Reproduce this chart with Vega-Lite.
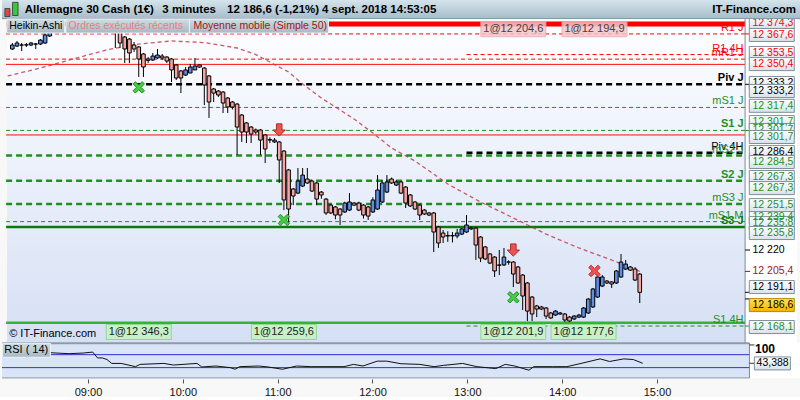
{
"$schema":"https://vega.github.io/schema/vega-lite/v6.json",
"padding":0,
"background":"#f8f8f8",
"spacing":0,
"bounds":"flush",
"config":{"view":{"stroke":null},"font":"Liberation Sans"},
"datasets":{
"candles":[
{"t":"2018-09-04T08:09","o":12357.3,"h":12361.4,"l":12356.6,"c":12360.0},
{"t":"2018-09-04T08:12","o":12359.3,"h":12362.8,"l":12358.7,"c":12361.4},
{"t":"2018-09-04T08:15","o":12360.0,"h":12361.4,"l":12355.9,"c":12360.0},
{"t":"2018-09-04T08:18","o":12360.2,"h":12361.4,"l":12358.7,"c":12360.0},
{"t":"2018-09-04T08:21","o":12360.0,"h":12362.1,"l":12359.3,"c":12361.4},
{"t":"2018-09-04T08:24","o":12360.7,"h":12361.4,"l":12357.3,"c":12360.7},
{"t":"2018-09-04T08:27","o":12360.7,"h":12364.1,"l":12360.0,"c":12363.4},
{"t":"2018-09-04T08:30","o":12361.4,"h":12368.2,"l":12360.7,"c":12366.9},
{"t":"2018-09-04T08:33","o":12366.2,"h":12374.0,"l":12365.5,"c":12372.0},
{"t":"2018-09-04T09:15","o":12376.0,"h":12378.0,"l":12358.0,"c":12369.0},
{"t":"2018-09-04T09:18","o":12372.0,"h":12374.0,"l":12358.0,"c":12361.4},
{"t":"2018-09-04T09:21","o":12365.5,"h":12366.2,"l":12347.7,"c":12357.3},
{"t":"2018-09-04T09:24","o":12364.1,"h":12364.8,"l":12347.7,"c":12354.6},
{"t":"2018-09-04T09:27","o":12360.0,"h":12362.1,"l":12355.3,"c":12357.3},
{"t":"2018-09-04T09:30","o":12358.7,"h":12359.3,"l":12338.2,"c":12350.5},
{"t":"2018-09-04T09:33","o":12353.9,"h":12354.6,"l":12338.2,"c":12345.0},
{"t":"2018-09-04T09:36","o":12350.5,"h":12351.8,"l":12347.7,"c":12349.5},
{"t":"2018-09-04T09:39","o":12349.8,"h":12354.6,"l":12349.1,"c":12352.5},
{"t":"2018-09-04T09:42","o":12351.2,"h":12357.3,"l":12350.5,"c":12353.2},
{"t":"2018-09-04T09:45","o":12352.5,"h":12353.9,"l":12349.8,"c":12351.2},
{"t":"2018-09-04T09:48","o":12351.8,"h":12352.5,"l":12347.7,"c":12349.1},
{"t":"2018-09-04T09:51","o":12350.5,"h":12351.2,"l":12334.8,"c":12343.0},
{"t":"2018-09-04T09:54","o":12346.4,"h":12347.0,"l":12336.1,"c":12337.5},
{"t":"2018-09-04T09:57","o":12342.3,"h":12343.0,"l":12327.2,"c":12337.5},
{"t":"2018-09-04T10:00","o":12339.5,"h":12345.0,"l":12339.0,"c":12343.0},
{"t":"2018-09-04T10:03","o":12340.9,"h":12347.0,"l":12340.9,"c":12345.0},
{"t":"2018-09-04T10:06","o":12343.0,"h":12351.2,"l":12343.0,"c":12345.7},
{"t":"2018-09-04T10:09","o":12346.4,"h":12347.0,"l":12344.3,"c":12345.0},
{"t":"2018-09-04T10:12","o":12344.3,"h":12345.0,"l":12319.0,"c":12332.7},
{"t":"2018-09-04T10:15","o":12338.9,"h":12339.5,"l":12310.2,"c":12321.1},
{"t":"2018-09-04T10:18","o":12330.0,"h":12330.7,"l":12321.1,"c":12327.2},
{"t":"2018-09-04T10:21","o":12328.6,"h":12329.3,"l":12324.5,"c":12325.9},
{"t":"2018-09-04T10:24","o":12327.9,"h":12328.6,"l":12313.6,"c":12320.4},
{"t":"2018-09-04T10:27","o":12323.8,"h":12324.5,"l":12313.6,"c":12317.7},
{"t":"2018-09-04T10:30","o":12321.1,"h":12321.8,"l":12316.0,"c":12317.7},
{"t":"2018-09-04T10:33","o":12319.7,"h":12320.4,"l":12284.9,"c":12304.0},
{"t":"2018-09-04T10:36","o":12312.2,"h":12312.9,"l":12293.8,"c":12300.6},
{"t":"2018-09-04T10:39","o":12306.8,"h":12307.5,"l":12293.1,"c":12300.6},
{"t":"2018-09-04T10:42","o":12304.0,"h":12304.7,"l":12293.1,"c":12299.2},
{"t":"2018-09-04T10:45","o":12302.0,"h":12303.0,"l":12299.0,"c":12300.6},
{"t":"2018-09-04T10:48","o":12302.0,"h":12302.7,"l":12284.9,"c":12295.1},
{"t":"2018-09-04T10:51","o":12298.6,"h":12299.2,"l":12279.4,"c":12289.0},
{"t":"2018-09-04T10:54","o":12295.5,"h":12297.0,"l":12293.0,"c":12295.1},
{"t":"2018-09-04T10:57","o":12293.8,"h":12296.5,"l":12293.1,"c":12295.1},
{"t":"2018-09-04T11:00","o":12293.8,"h":12294.5,"l":12265.8,"c":12281.5},
{"t":"2018-09-04T11:03","o":12287.6,"h":12288.3,"l":12247.3,"c":12254.2},
{"t":"2018-09-04T11:06","o":12274.7,"h":12275.4,"l":12238.5,"c":12248.0},
{"t":"2018-09-04T11:09","o":12261.7,"h":12262.4,"l":12250.7,"c":12256.9},
{"t":"2018-09-04T11:12","o":12258.9,"h":12276.0,"l":12258.2,"c":12267.1},
{"t":"2018-09-04T11:15","o":12263.7,"h":12276.0,"l":12263.0,"c":12271.2},
{"t":"2018-09-04T11:18","o":12268.5,"h":12276.0,"l":12265.1,"c":12265.8},
{"t":"2018-09-04T11:21","o":12267.1,"h":12268.0,"l":12259.6,"c":12260.3},
{"t":"2018-09-04T11:24","o":12265.8,"h":12266.5,"l":12250.7,"c":12254.8},
{"t":"2018-09-04T11:27","o":12259.6,"h":12260.3,"l":12255.0,"c":12257.6},
{"t":"2018-09-04T11:30","o":12254.8,"h":12255.5,"l":12244.0,"c":12245.3},
{"t":"2018-09-04T11:33","o":12250.7,"h":12251.4,"l":12244.6,"c":12245.3},
{"t":"2018-09-04T11:36","o":12249.4,"h":12250.1,"l":12241.0,"c":12243.9},
{"t":"2018-09-04T11:39","o":12248.0,"h":12248.7,"l":12237.1,"c":12243.9},
{"t":"2018-09-04T11:42","o":12246.0,"h":12253.0,"l":12245.3,"c":12252.1},
{"t":"2018-09-04T11:45","o":12247.3,"h":12258.9,"l":12246.6,"c":12252.8},
{"t":"2018-09-04T11:48","o":12252.1,"h":12252.8,"l":12250.0,"c":12250.7},
{"t":"2018-09-04T11:51","o":12252.1,"h":12253.0,"l":12246.6,"c":12247.3},
{"t":"2018-09-04T11:54","o":12250.7,"h":12251.4,"l":12241.5,"c":12243.9},
{"t":"2018-09-04T11:57","o":12249.4,"h":12250.1,"l":12240.5,"c":12243.2},
{"t":"2018-09-04T12:00","o":12246.0,"h":12256.0,"l":12245.3,"c":12254.2},
{"t":"2018-09-04T12:03","o":12248.0,"h":12271.2,"l":12247.3,"c":12261.0},
{"t":"2018-09-04T12:06","o":12252.8,"h":12268.0,"l":12252.1,"c":12265.8},
{"t":"2018-09-04T12:09","o":12259.6,"h":12271.2,"l":12258.9,"c":12266.5},
{"t":"2018-09-04T12:12","o":12268.5,"h":12269.5,"l":12265.1,"c":12265.8},
{"t":"2018-09-04T12:15","o":12264.4,"h":12267.8,"l":12263.7,"c":12266.5},
{"t":"2018-09-04T12:18","o":12266.5,"h":12267.2,"l":12258.2,"c":12258.9},
{"t":"2018-09-04T12:21","o":12263.0,"h":12263.7,"l":12248.7,"c":12252.1},
{"t":"2018-09-04T12:24","o":12257.6,"h":12258.3,"l":12249.4,"c":12250.1},
{"t":"2018-09-04T12:27","o":12252.8,"h":12253.5,"l":12247.3,"c":12248.0},
{"t":"2018-09-04T12:30","o":12250.7,"h":12251.4,"l":12240.5,"c":12243.9},
{"t":"2018-09-04T12:33","o":12247.3,"h":12248.0,"l":12243.9,"c":12244.6},
{"t":"2018-09-04T12:36","o":12245.3,"h":12246.0,"l":12243.2,"c":12243.9},
{"t":"2018-09-04T12:39","o":12245.3,"h":12246.0,"l":12218.6,"c":12232.3},
{"t":"2018-09-04T12:42","o":12235.7,"h":12236.4,"l":12221.4,"c":12224.8},
{"t":"2018-09-04T12:45","o":12231.6,"h":12233.7,"l":12224.8,"c":12228.9},
{"t":"2018-09-04T12:48","o":12229.9,"h":12232.8,"l":12225.6,"c":12229.6},
{"t":"2018-09-04T12:51","o":12229.9,"h":12232.3,"l":12225.2,"c":12229.6},
{"t":"2018-09-04T12:54","o":12229.6,"h":12234.4,"l":12228.0,"c":12231.6},
{"t":"2018-09-04T12:57","o":12230.9,"h":12235.0,"l":12230.2,"c":12234.4},
{"t":"2018-09-04T13:00","o":12232.3,"h":12243.9,"l":12231.6,"c":12237.1},
{"t":"2018-09-04T13:03","o":12235.0,"h":12236.0,"l":12233.7,"c":12234.4},
{"t":"2018-09-04T13:06","o":12235.0,"h":12235.7,"l":12213.2,"c":12223.4},
{"t":"2018-09-04T13:09","o":12228.9,"h":12229.6,"l":12211.8,"c":12214.5},
{"t":"2018-09-04T13:12","o":12222.1,"h":12222.8,"l":12213.2,"c":12213.9},
{"t":"2018-09-04T13:15","o":12217.3,"h":12218.0,"l":12210.4,"c":12211.1},
{"t":"2018-09-04T13:18","o":12215.2,"h":12215.9,"l":12201.6,"c":12205.7},
{"t":"2018-09-04T13:21","o":12209.8,"h":12220.0,"l":12202.9,"c":12209.6},
{"t":"2018-09-04T13:24","o":12209.8,"h":12221.4,"l":12209.1,"c":12215.2},
{"t":"2018-09-04T13:27","o":12211.8,"h":12213.0,"l":12210.0,"c":12211.8},
{"t":"2018-09-04T13:30","o":12211.8,"h":12212.5,"l":12194.7,"c":12203.6},
{"t":"2018-09-04T13:33","o":12208.4,"h":12209.1,"l":12196.8,"c":12197.5},
{"t":"2018-09-04T13:36","o":12202.9,"h":12203.6,"l":12179.0,"c":12188.6},
{"t":"2018-09-04T13:39","o":12197.5,"h":12198.2,"l":12171.5,"c":12178.3},
{"t":"2018-09-04T13:42","o":12187.9,"h":12188.6,"l":12171.5,"c":12176.3},
{"t":"2018-09-04T13:45","o":12181.8,"h":12182.5,"l":12174.2,"c":12179.7},
{"t":"2018-09-04T13:48","o":12181.1,"h":12181.8,"l":12179.0,"c":12179.7},
{"t":"2018-09-04T13:51","o":12180.4,"h":12181.1,"l":12172.9,"c":12174.9},
{"t":"2018-09-04T13:54","o":12177.0,"h":12177.7,"l":12172.9,"c":12173.6},
{"t":"2018-09-04T13:57","o":12175.6,"h":12179.0,"l":12174.9,"c":12178.3},
{"t":"2018-09-04T14:00","o":12177.0,"h":12177.7,"l":12175.6,"c":12176.3},
{"t":"2018-09-04T14:03","o":12176.3,"h":12177.0,"l":12170.8,"c":12172.2},
{"t":"2018-09-04T14:06","o":12174.2,"h":12174.9,"l":12170.8,"c":12171.5},
{"t":"2018-09-04T14:09","o":12172.9,"h":12175.6,"l":12172.2,"c":12174.9},
{"t":"2018-09-04T14:12","o":12174.2,"h":12176.3,"l":12173.6,"c":12175.6},
{"t":"2018-09-04T14:15","o":12174.2,"h":12181.1,"l":12173.6,"c":12180.4},
{"t":"2018-09-04T14:18","o":12177.0,"h":12187.2,"l":12176.3,"c":12186.5},
{"t":"2018-09-04T14:21","o":12181.1,"h":12194.1,"l":12180.4,"c":12193.4},
{"t":"2018-09-04T14:24","o":12187.9,"h":12202.3,"l":12187.2,"c":12201.6},
{"t":"2018-09-04T14:27","o":12195.4,"h":12202.9,"l":12194.7,"c":12201.6},
{"t":"2018-09-04T14:30","o":12198.8,"h":12199.5,"l":12196.8,"c":12197.5},
{"t":"2018-09-04T14:33","o":12198.2,"h":12198.8,"l":12194.1,"c":12196.8},
{"t":"2018-09-04T14:36","o":12197.5,"h":12206.4,"l":12196.8,"c":12205.7},
{"t":"2018-09-04T14:39","o":12201.6,"h":12217.3,"l":12200.9,"c":12211.8},
{"t":"2018-09-04T14:42","o":12207.0,"h":12213.2,"l":12206.3,"c":12210.4},
{"t":"2018-09-04T14:45","o":12208.4,"h":12209.1,"l":12205.7,"c":12206.3},
{"t":"2018-09-04T14:48","o":12207.0,"h":12208.4,"l":12198.8,"c":12199.5},
{"t":"2018-09-04T14:51","o":12203.6,"h":12204.3,"l":12183.8,"c":12191.1}
],
"ma":[
{"t":"2018-09-04T08:06","p":12338.9},{"t":"2018-09-04T08:27","p":12344.3},{"t":"2018-09-04T08:48","p":12350.5},{"t":"2018-09-04T09:09","p":12356.6},
{"t":"2018-09-04T09:30","p":12360.7},{"t":"2018-09-04T09:51","p":12362.8},{"t":"2018-09-04T10:12","p":12361.7},{"t":"2018-09-04T10:33","p":12358.0},
{"t":"2018-09-04T10:45","p":12353.5},{"t":"2018-09-04T10:54","p":12348.4},{"t":"2018-09-04T11:06","p":12341.6},{"t":"2018-09-04T11:15","p":12333.4},
{"t":"2018-09-04T11:27","p":12323.8},{"t":"2018-09-04T11:48","p":12309.5},{"t":"2018-09-04T12:00","p":12299.9},{"t":"2018-09-04T12:12","p":12289.7},
{"t":"2018-09-04T12:27","p":12280.8},{"t":"2018-09-04T12:48","p":12265.1},{"t":"2018-09-04T13:09","p":12252.8},{"t":"2018-09-04T13:30","p":12241.9},
{"t":"2018-09-04T13:51","p":12230.9},{"t":"2018-09-04T14:12","p":12221.4},{"t":"2018-09-04T14:33","p":12213.2},{"t":"2018-09-04T14:51","p":12205.4}
],
"rsi":[
{"t":"2018-09-04T08:21","v":62},{"t":"2018-09-04T08:36","v":76},{"t":"2018-09-04T08:48","v":73},{"t":"2018-09-04T08:57","v":75},{"t":"2018-09-04T09:03","v":78},
{"t":"2018-09-04T09:06","v":60},{"t":"2018-09-04T09:09","v":60},{"t":"2018-09-04T09:12","v":55},{"t":"2018-09-04T09:15","v":43},{"t":"2018-09-04T09:21","v":43},
{"t":"2018-09-04T09:30","v":33},{"t":"2018-09-04T09:33","v":40},{"t":"2018-09-04T09:48","v":43},{"t":"2018-09-04T09:54","v":38},{"t":"2018-09-04T10:09","v":43},
{"t":"2018-09-04T10:12","v":32},{"t":"2018-09-04T10:21","v":35},{"t":"2018-09-04T10:30","v":30},{"t":"2018-09-04T10:33","v":25},{"t":"2018-09-04T10:36","v":33},
{"t":"2018-09-04T10:48","v":35},{"t":"2018-09-04T10:54","v":32},{"t":"2018-09-04T11:03","v":25},{"t":"2018-09-04T11:12","v":35},{"t":"2018-09-04T11:21","v":33},
{"t":"2018-09-04T11:30","v":33},{"t":"2018-09-04T11:42","v":33},{"t":"2018-09-04T11:48","v":40},{"t":"2018-09-04T11:54","v":35},{"t":"2018-09-04T12:03","v":50},
{"t":"2018-09-04T12:09","v":50},{"t":"2018-09-04T12:18","v":42},{"t":"2018-09-04T12:30","v":40},{"t":"2018-09-04T12:39","v":33},{"t":"2018-09-04T12:45","v":37},
{"t":"2018-09-04T12:57","v":43},{"t":"2018-09-04T13:06","v":33},{"t":"2018-09-04T13:18","v":27},{"t":"2018-09-04T13:24","v":40},{"t":"2018-09-04T13:30","v":35},
{"t":"2018-09-04T13:39","v":22},{"t":"2018-09-04T13:42","v":33},{"t":"2018-09-04T13:54","v":33},{"t":"2018-09-04T14:03","v":33},{"t":"2018-09-04T14:12","v":43},
{"t":"2018-09-04T14:24","v":57},{"t":"2018-09-04T14:30","v":49},{"t":"2018-09-04T14:39","v":57},{"t":"2018-09-04T14:45","v":55},{"t":"2018-09-04T14:51","v":43.388}
],
"levels":[
{"name":"","p":12374.3,"c":"r","s":"band","from":"2018-09-04T08:05"},
{"name":"R1 J","p":12367.6,"c":"r","s":"dash","from":"2018-09-04T08:05"},
{"name":"R1 4H","p":12353.5,"c":"r","s":"dash","from":"2018-09-04T13:00"},
{"name":"mR1 J","p":12350.4,"c":"r","s":"dash","from":"2018-09-04T08:05"},
{"name":"","p":12346.8,"c":"r","s":"line","from":"2018-09-04T08:05"},
{"name":"Piv J","p":12333.2,"c":"k","s":"dashB","from":"2018-09-04T08:05"},
{"name":"mS1 J","p":12317.4,"c":"g","s":"dash","from":"2018-09-04T08:05"},
{"name":"S1 J","p":12301.7,"c":"g","s":"dash","from":"2018-09-04T08:05"},
{"name":"","p":12298.6,"c":"r","s":"line","from":"2018-09-04T08:05"},
{"name":"Piv 4H","p":12286.4,"c":"k","s":"dashB","from":"2018-09-04T13:00"},
{"name":"mS2 J","p":12284.5,"c":"g","s":"dashB","from":"2018-09-04T08:05"},
{"name":"S2 J","p":12267.3,"c":"g","s":"dashB","from":"2018-09-04T08:05"},
{"name":"mS3 J","p":12251.5,"c":"g","s":"dashB","from":"2018-09-04T08:05"},
{"name":"mS1 M","p":12239.4,"c":"g","s":"dash","from":"2018-09-04T08:05"},
{"name":"S3 J","p":12235.8,"c":"G","s":"lineB","from":"2018-09-04T08:05"},
{"name":"","p":12170.3,"c":"L","s":"lineB","from":"2018-09-04T08:05"},
{"name":"S1 4H","p":12168.1,"c":"g","s":"dash","from":"2018-09-04T13:00"}
],
"orders":[
{"t":"2018-09-04T09:30","txt":"1@12 346,3","k":"buy"},
{"t":"2018-09-04T11:03","txt":"1@12 259,6","k":"buy"},
{"t":"2018-09-04T13:30","txt":"1@12 201,9","k":"buy"},
{"t":"2018-09-04T14:15","txt":"1@12 177,6","k":"buy"},
{"t":"2018-09-04T13:30","txt":"1@12 204,6","k":"sell"},
{"t":"2018-09-04T14:22","txt":"1@12 194,9","k":"sell"}
],
"fills":[
{"t":"2018-09-04T09:30","p":12331.1,"k":"buy"},
{"t":"2018-09-04T11:03","p":12240.5,"k":"buy"},
{"t":"2018-09-04T13:30","p":12187.7,"k":"buy"},
{"t":"2018-09-04T14:22","p":12205.7,"k":"sell"}
],
"arrows":[{"t":"2018-09-04T11:00","p":12302.0},{"t":"2018-09-04T13:30","p":12220.0}],
"axunder":[
{"txt":"12 374,3","at":12375.2,"c":"r"},
{"txt":"12 353,5","at":12354.6,"c":"r"},
{"txt":"12 333,2","at":12334.1,"c":"k"},
{"txt":"12 301,7","at":12307.4,"c":"g"},
{"txt":"12 301,7","at":12302.0,"c":"g"},
{"txt":"12 286,4","at":12286.9,"c":"k"},
{"txt":"12 267,3","at":12269.9,"c":"g"},
{"txt":"12 239,4","at":12242.5,"c":"g"},
{"txt":"12 235,8","at":12238.4,"c":"g"}
],
"axover":[
{"txt":"12 367,6","at":12366.9,"c":"r"},
{"txt":"12 350,4","at":12347.0,"c":"r"},
{"txt":"12 333,2","at":12328.6,"c":"k"},
{"txt":"12 317,4","at":12318.5,"c":"g"},
{"txt":"12 301,7","at":12297.2,"c":"g"},
{"txt":"12 284,5","at":12280.1,"c":"g"},
{"txt":"12 267,3","at":12262.3,"c":"g"},
{"txt":"12 251,5","at":12250.7,"c":"g"},
{"txt":"12 235,8","at":12231.6,"c":"g"},
{"txt":"12 191,1","at":12194.7,"c":"k"},
{"txt":"12 168,1","at":12167.4,"c":"g"}
],
"axticks":[{"p":12220,"c":"k"},{"p":12205.4,"c":"m"},{"p":12191.1,"c":"k"},{"p":12186.6,"c":"k"},{"p":12168.1,"c":"g"},{"p":12367.6,"c":"r"},{"p":12333.2,"c":"k"},{"p":12301.7,"c":"g"}],
"hdr":[
{"t":"2018-09-04T08:20","txt":"Allemagne 30 Cash (1€)"},
{"t":"2018-09-04T09:47","txt":"3 minutes"},
{"t":"2018-09-04T10:28","txt":"12 186,6 (-1,21%)"},
{"t":"2018-09-04T11:28","txt":"4 sept. 2018 14:53:05"}
],
"legend":[
{"t":"2018-09-04T08:07","txt":"Heikin-Ashi","c":"k"},
{"t":"2018-09-04T08:45","txt":"Ordres exécutés récents","c":"o"},
{"t":"2018-09-04T10:05","txt":"Moyenne mobile (Simple 50)","c":"m"}
]
},
"vconcat":[
{
"width":800,"height":19,
"layer":[
{"data":{"values":[{}]},"mark":{"type":"rect","fill":{"gradient":"linear","x1":0,"y1":0,"x2":0,"y2":1,"stops":[{"offset":0,"color":"#d5e4ec"},{"offset":1,"color":"#a4bcc9"}]}},
"encoding":{"x":{"datum":{"year":2018,"month":9,"date":4,"hours":8,"minutes":5,"seconds":35},"type":"temporal","scale":{"domain":[{"year":2018,"month":9,"date":4,"hours":8,"minutes":5,"seconds":35},{"year":2018,"month":9,"date":4,"hours":16,"minutes":31,"seconds":45}]},"axis":null},
"x2":{"datum":{"year":2018,"month":9,"date":4,"hours":16,"minutes":31,"seconds":45}},
"y":{"datum":0,"type":"quantitative","scale":{"domain":[0,1],"nice":false,"zero":false},"axis":null},"y2":{"datum":1}}},
{"data":{"values":[{}]},"mark":{"type":"rule","stroke":"#7f97a5","strokeWidth":1},
"encoding":{"x":{"datum":{"year":2018,"month":9,"date":4,"hours":8,"minutes":5,"seconds":35},"type":"temporal","scale":{"domain":[{"year":2018,"month":9,"date":4,"hours":8,"minutes":5,"seconds":35},{"year":2018,"month":9,"date":4,"hours":16,"minutes":31,"seconds":45}]},"axis":null},
"x2":{"datum":{"year":2018,"month":9,"date":4,"hours":16,"minutes":31,"seconds":45}},
"y":{"datum":0.02,"type":"quantitative","scale":{"domain":[0,1],"nice":false,"zero":false},"axis":null}}},
{"data":{"values":[{"t":"2018-09-04T08:09"}]},"mark":{"type":"point","shape":"M-1,-1.6H1V1.6H-1Z","size":25,"filled":true,"opacity":1,"fill":"#e04848","stroke":"#333","strokeWidth":0.8},
"encoding":{"x":{"field":"t","type":"temporal","scale":{"domain":[{"year":2018,"month":9,"date":4,"hours":8,"minutes":5,"seconds":35},{"year":2018,"month":9,"date":4,"hours":16,"minutes":31,"seconds":45}]},"axis":null},
"y":{"datum":0.34,"type":"quantitative","scale":{"domain":[0,1],"nice":false,"zero":false},"axis":null}}},
{"data":{"values":[{"t":"2018-09-04T08:14"}]},"mark":{"type":"point","shape":"M-1,-2.4H1V2.4H-1Z","size":30,"filled":true,"opacity":1,"fill":"#3cc83c","stroke":"#333","strokeWidth":0.8},
"encoding":{"x":{"field":"t","type":"temporal","scale":{"domain":[{"year":2018,"month":9,"date":4,"hours":8,"minutes":5,"seconds":35},{"year":2018,"month":9,"date":4,"hours":16,"minutes":31,"seconds":45}]},"axis":null},
"y":{"datum":0.53,"type":"quantitative","scale":{"domain":[0,1],"nice":false,"zero":false},"axis":null}}},
{"data":{"name":"hdr"},"mark":{"type":"text","align":"left","baseline":"middle","fontSize":11.5,"fontWeight":"bold","color":"#000"},
"encoding":{"x":{"field":"t","type":"temporal","scale":{"domain":[{"year":2018,"month":9,"date":4,"hours":8,"minutes":5,"seconds":35},{"year":2018,"month":9,"date":4,"hours":16,"minutes":31,"seconds":45}]},"axis":null},
"y":{"datum":0.5,"type":"quantitative","scale":{"domain":[0,1],"nice":false,"zero":false},"axis":null},"text":{"field":"txt"}}},
{"data":{"values":[{"t":"2018-09-04T16:28","txt":"IT-Finance.com"}]},"mark":{"type":"text","align":"right","baseline":"middle","fontSize":11.5,"fontWeight":"bold","color":"#000"},
"encoding":{"x":{"field":"t","type":"temporal","scale":{"domain":[{"year":2018,"month":9,"date":4,"hours":8,"minutes":5,"seconds":35},{"year":2018,"month":9,"date":4,"hours":16,"minutes":31,"seconds":45}]},"axis":null},
"y":{"datum":0.5,"type":"quantitative","scale":{"domain":[0,1],"nice":false,"zero":false},"axis":null},"text":{"field":"txt"}}}
]
},
{
"width":800,"height":324,
"layer":[
{"data":{"values":[{}]},"mark":{"type":"rect","fill":{"gradient":"linear","x1":0,"y1":0,"x2":0,"y2":1,"stops":[{"offset":0,"color":"#fdfeff"},{"offset":1,"color":"#d6e0f5"}]}},
"encoding":{"x":{"datum":{"year":2018,"month":9,"date":4,"hours":8,"minutes":5,"seconds":35},"type":"temporal","scale":{"domain":[{"year":2018,"month":9,"date":4,"hours":8,"minutes":5,"seconds":35},{"year":2018,"month":9,"date":4,"hours":16,"minutes":31,"seconds":45}]},"axis":null},
"x2":{"datum":{"year":2018,"month":9,"date":4,"hours":15,"minutes":58,"seconds":30}},
"y":{"datum":12377.8,"type":"quantitative","scale":{"domain":[12156.5,12377.8],"nice":false,"zero":false},"axis":null},"y2":{"datum":12156.5}}},
{"data":{"values":[{}]},"mark":{"type":"rect","fill":"#ffffff"},
"encoding":{"x":{"datum":{"year":2018,"month":9,"date":4,"hours":15,"minutes":58,"seconds":30},"type":"temporal","scale":{"domain":[{"year":2018,"month":9,"date":4,"hours":8,"minutes":5,"seconds":35},{"year":2018,"month":9,"date":4,"hours":16,"minutes":31,"seconds":45}]},"axis":null},
"x2":{"datum":{"year":2018,"month":9,"date":4,"hours":16,"minutes":31,"seconds":45}},
"y":{"datum":12377.8,"type":"quantitative","scale":{"domain":[12156.5,12377.8],"nice":false,"zero":false},"axis":null},"y2":{"datum":12156.5}}},
{"data":{"name":"levels"},"transform":[{"filter":"datum.s == 'band'"}],"mark":{"type":"rule","clip":true,"strokeWidth":5},
"encoding":{"x":{"field":"from","type":"temporal","scale":{"domain":[{"year":2018,"month":9,"date":4,"hours":8,"minutes":5,"seconds":35},{"year":2018,"month":9,"date":4,"hours":16,"minutes":31,"seconds":45}]},"axis":null},
"x2":{"datum":{"year":2018,"month":9,"date":4,"hours":15,"minutes":58,"seconds":30}},
"y":{"field":"p","type":"quantitative","scale":{"domain":[12156.5,12377.8],"nice":false,"zero":false},"axis":null},
"color":{"field":"c","type":"nominal","scale":{"domain":["r","k","g","G","L","m","o"],"range":["#ff0000","#000000","#1f8f1f","#0b7a0b","#33b533","#a31515","#f07a7a"]},"legend":null}}},
{"data":{"name":"levels"},"transform":[{"filter":"datum.s == 'line' || datum.s == 'dash'"}],"mark":{"type":"rule","clip":true,"strokeWidth":1},
"encoding":{"x":{"field":"from","type":"temporal","scale":{"domain":[{"year":2018,"month":9,"date":4,"hours":8,"minutes":5,"seconds":35},{"year":2018,"month":9,"date":4,"hours":16,"minutes":31,"seconds":45}]},"axis":null},
"x2":{"datum":{"year":2018,"month":9,"date":4,"hours":15,"minutes":58,"seconds":30}},
"y":{"field":"p","type":"quantitative","scale":{"domain":[12156.5,12377.8],"nice":false,"zero":false},"axis":null},
"color":{"field":"c","type":"nominal","scale":{"domain":["r","k","g","G","L","m","o"],"range":["#ff0000","#000000","#1f8f1f","#0b7a0b","#33b533","#a31515","#f07a7a"]},"legend":null},
"strokeDash":{"field":"s","type":"nominal","scale":{"domain":["band","line","lineB","dash","dashB"],"range":[[1,0],[1,0],[1,0],[4,3],[6,4]]},"legend":null}}},
{"data":{"name":"levels"},"transform":[{"filter":"datum.s == 'lineB' || datum.s == 'dashB'"}],"mark":{"type":"rule","clip":true,"strokeWidth":2.5},
"encoding":{"x":{"field":"from","type":"temporal","scale":{"domain":[{"year":2018,"month":9,"date":4,"hours":8,"minutes":5,"seconds":35},{"year":2018,"month":9,"date":4,"hours":16,"minutes":31,"seconds":45}]},"axis":null},
"x2":{"datum":{"year":2018,"month":9,"date":4,"hours":15,"minutes":58,"seconds":30}},
"y":{"field":"p","type":"quantitative","scale":{"domain":[12156.5,12377.8],"nice":false,"zero":false},"axis":null},
"color":{"field":"c","type":"nominal","scale":{"domain":["r","k","g","G","L","m","o"],"range":["#ff0000","#000000","#1f8f1f","#0b7a0b","#33b533","#a31515","#f07a7a"]},"legend":null},
"strokeDash":{"field":"s","type":"nominal","scale":{"domain":["band","line","lineB","dash","dashB"],"range":[[1,0],[1,0],[1,0],[4,3],[6,4]]},"legend":null}}},
{"data":{"name":"levels"},"transform":[{"filter":"datum.name != '' && indexof(['Piv J','S1 J','S2 J','S3 J'], datum.name) < 0"}],
"mark":{"type":"text","align":"right","baseline":"bottom","dy":-1,"fontSize":11,"clip":true},
"encoding":{"x":{"datum":{"year":2018,"month":9,"date":4,"hours":15,"minutes":57,"seconds":30},"type":"temporal","scale":{"domain":[{"year":2018,"month":9,"date":4,"hours":8,"minutes":5,"seconds":35},{"year":2018,"month":9,"date":4,"hours":16,"minutes":31,"seconds":45}]},"axis":null},
"y":{"field":"p","type":"quantitative","scale":{"domain":[12156.5,12377.8],"nice":false,"zero":false},"axis":null},
"color":{"field":"c","type":"nominal","scale":{"domain":["r","k","g","G","L","m","o"],"range":["#ff0000","#000000","#1f8f1f","#0b7a0b","#33b533","#a31515","#f07a7a"]},"legend":null},
"text":{"field":"name"}}},
{"data":{"name":"levels"},"transform":[{"filter":"indexof(['Piv J','S1 J','S2 J','S3 J'], datum.name) >= 0"}],
"mark":{"type":"text","align":"right","baseline":"bottom","dy":-1,"fontSize":11,"fontWeight":"bold","clip":true},
"encoding":{"x":{"datum":{"year":2018,"month":9,"date":4,"hours":15,"minutes":57,"seconds":30},"type":"temporal","scale":{"domain":[{"year":2018,"month":9,"date":4,"hours":8,"minutes":5,"seconds":35},{"year":2018,"month":9,"date":4,"hours":16,"minutes":31,"seconds":45}]},"axis":null},
"y":{"field":"p","type":"quantitative","scale":{"domain":[12156.5,12377.8],"nice":false,"zero":false},"axis":null},
"color":{"field":"c","type":"nominal","scale":{"domain":["r","k","g","G","L","m","o"],"range":["#ff0000","#000000","#1f8f1f","#0b7a0b","#33b533","#a31515","#f07a7a"]},"legend":null},
"text":{"field":"name"}}},
{"data":{"name":"ma"},"mark":{"type":"line","stroke":"#c43c4c","strokeWidth":1.3,"strokeDash":[4,3],"opacity":0.85,"clip":true},
"encoding":{"x":{"field":"t","type":"temporal","scale":{"domain":[{"year":2018,"month":9,"date":4,"hours":8,"minutes":5,"seconds":35},{"year":2018,"month":9,"date":4,"hours":16,"minutes":31,"seconds":45}]},"axis":null},
"y":{"field":"p","type":"quantitative","scale":{"domain":[12156.5,12377.8],"nice":false,"zero":false},"axis":null}}},
{"data":{"name":"candles"},"mark":{"type":"rule","color":"#000","strokeWidth":1,"clip":true},
"encoding":{"x":{"field":"t","type":"temporal","scale":{"domain":[{"year":2018,"month":9,"date":4,"hours":8,"minutes":5,"seconds":35},{"year":2018,"month":9,"date":4,"hours":16,"minutes":31,"seconds":45}]},"axis":null},
"y":{"field":"l","type":"quantitative","scale":{"domain":[12156.5,12377.8],"nice":false,"zero":false},"axis":null},"y2":{"field":"h"}}},
{"data":{"name":"candles"},"mark":{"type":"bar","size":3.6,"stroke":"#000","strokeWidth":1,"clip":true},
"encoding":{"x":{"field":"t","type":"temporal","scale":{"domain":[{"year":2018,"month":9,"date":4,"hours":8,"minutes":5,"seconds":35},{"year":2018,"month":9,"date":4,"hours":16,"minutes":31,"seconds":45}]},"axis":null},
"y":{"field":"o","type":"quantitative","scale":{"domain":[12156.5,12377.8],"nice":false,"zero":false},"axis":null},"y2":{"field":"c"},
"fill":{"condition":{"test":"datum.c >= datum.o","value":"#5e8fe6"},"value":"#f5a5a3"}}},
{"data":{"name":"fills"},"mark":{"type":"point","shape":"M-1,-0.6L-0.6,-1L0,-0.4L0.6,-1L1,-0.6L0.4,0L1,0.6L0.6,1L0,0.4L-0.6,1L-1,0.6L-0.4,0Z","size":130,"filled":true,"opacity":1,"strokeWidth":1,"clip":true},
"encoding":{"x":{"field":"t","type":"temporal","scale":{"domain":[{"year":2018,"month":9,"date":4,"hours":8,"minutes":5,"seconds":35},{"year":2018,"month":9,"date":4,"hours":16,"minutes":31,"seconds":45}]},"axis":null},
"y":{"field":"p","type":"quantitative","scale":{"domain":[12156.5,12377.8],"nice":false,"zero":false},"axis":null},
"fill":{"condition":{"test":"datum.k == 'buy'","value":"#48cc48"},"value":"#f05252"},
"stroke":{"condition":{"test":"datum.k == 'buy'","value":"#1f8f1f"},"value":"#c02a2a"}}},
{"data":{"name":"arrows"},"mark":{"type":"point","shape":"M-0.45,-1H0.45V0H1L0,1L-1,0H-0.45Z","size":150,"filled":true,"opacity":1,"fill":"#e85454","stroke":"#b02a2a","strokeWidth":1,"clip":true},
"encoding":{"x":{"field":"t","type":"temporal","scale":{"domain":[{"year":2018,"month":9,"date":4,"hours":8,"minutes":5,"seconds":35},{"year":2018,"month":9,"date":4,"hours":16,"minutes":31,"seconds":45}]},"axis":null},
"y":{"field":"p","type":"quantitative","scale":{"domain":[12156.5,12377.8],"nice":false,"zero":false},"axis":null}}},
{"data":{"name":"orders"},"transform":[{"filter":"datum.k == 'buy'"}],"mark":{"type":"point","shape":"M-1,-0.2308H1V0.2308H-1Z","size":4225,"filled":true,"opacity":1,"fill":"#c8f0c8","stroke":"#8fd88f","strokeWidth":1,"clip":true},
"encoding":{"x":{"field":"t","type":"temporal","scale":{"domain":[{"year":2018,"month":9,"date":4,"hours":8,"minutes":5,"seconds":35},{"year":2018,"month":9,"date":4,"hours":16,"minutes":31,"seconds":45}]},"axis":null},
"y":{"datum":12164.0,"type":"quantitative","scale":{"domain":[12156.5,12377.8],"nice":false,"zero":false},"axis":null}}},
{"data":{"name":"orders"},"transform":[{"filter":"datum.k == 'buy'"}],"mark":{"type":"text","align":"center","baseline":"middle","fontSize":11,"color":"#222","clip":true},
"encoding":{"x":{"field":"t","type":"temporal","scale":{"domain":[{"year":2018,"month":9,"date":4,"hours":8,"minutes":5,"seconds":35},{"year":2018,"month":9,"date":4,"hours":16,"minutes":31,"seconds":45}]},"axis":null},
"y":{"datum":12164.0,"type":"quantitative","scale":{"domain":[12156.5,12377.8],"nice":false,"zero":false},"axis":null},"text":{"field":"txt"}}},
{"data":{"name":"orders"},"transform":[{"filter":"datum.k == 'sell'"}],"mark":{"type":"point","shape":"M-1,-0.2308H1V0.2308H-1Z","size":4225,"filled":true,"opacity":0.85,"fill":"#f6c3c9","stroke":"#eeaab3","strokeWidth":1,"clip":true},
"encoding":{"x":{"field":"t","type":"temporal","scale":{"domain":[{"year":2018,"month":9,"date":4,"hours":8,"minutes":5,"seconds":35},{"year":2018,"month":9,"date":4,"hours":16,"minutes":31,"seconds":45}]},"axis":null},
"y":{"datum":12370.8,"type":"quantitative","scale":{"domain":[12156.5,12377.8],"nice":false,"zero":false},"axis":null}}},
{"data":{"name":"orders"},"transform":[{"filter":"datum.k == 'sell'"}],"mark":{"type":"text","align":"center","baseline":"middle","fontSize":11,"color":"#444","clip":true},
"encoding":{"x":{"field":"t","type":"temporal","scale":{"domain":[{"year":2018,"month":9,"date":4,"hours":8,"minutes":5,"seconds":35},{"year":2018,"month":9,"date":4,"hours":16,"minutes":31,"seconds":45}]},"axis":null},
"y":{"datum":12370.8,"type":"quantitative","scale":{"domain":[12156.5,12377.8],"nice":false,"zero":false},"axis":null},"text":{"field":"txt"}}},
{"data":{"values":[{}]},"mark":{"type":"rule","stroke":"#7a8a96","strokeWidth":1},
"encoding":{"x":{"datum":{"year":2018,"month":9,"date":4,"hours":15,"minutes":58,"seconds":30},"type":"temporal","scale":{"domain":[{"year":2018,"month":9,"date":4,"hours":8,"minutes":5,"seconds":35},{"year":2018,"month":9,"date":4,"hours":16,"minutes":31,"seconds":45}]},"axis":null},
"y":{"datum":12377.8,"type":"quantitative","scale":{"domain":[12156.5,12377.8],"nice":false,"zero":false},"axis":null},"y2":{"datum":12156.5}}},
{"data":{"name":"axticks"},"mark":{"type":"rule","strokeWidth":1},
"encoding":{"x":{"datum":{"year":2018,"month":9,"date":4,"hours":15,"minutes":58,"seconds":30},"type":"temporal","scale":{"domain":[{"year":2018,"month":9,"date":4,"hours":8,"minutes":5,"seconds":35},{"year":2018,"month":9,"date":4,"hours":16,"minutes":31,"seconds":45}]},"axis":null},
"x2":{"datum":{"year":2018,"month":9,"date":4,"hours":16,"minutes":1,"seconds":40}},
"y":{"field":"p","type":"quantitative","scale":{"domain":[12156.5,12377.8],"nice":false,"zero":false},"axis":null},
"color":{"field":"c","type":"nominal","scale":{"domain":["r","k","g","G","L","m","o"],"range":["#ff0000","#000000","#1f8f1f","#0b7a0b","#33b533","#a31515","#f07a7a"]},"legend":null}}},
{"data":{"name":"axunder"},"mark":{"type":"point","shape":"M-1,-0.289H1V0.289H-1Z","size":2025,"filled":true,"opacity":1,"fill":{"gradient":"linear","x1":0,"y1":0,"x2":0,"y2":1,"stops":[{"offset":0,"color":"#ffffff"},{"offset":1,"color":"#d8e2ea"}]},"stroke":"#7f8f9b","strokeWidth":1,"clip":true},
"encoding":{"x":{"datum":{"year":2018,"month":9,"date":4,"hours":16,"minutes":15,"seconds":36},"type":"temporal","scale":{"domain":[{"year":2018,"month":9,"date":4,"hours":8,"minutes":5,"seconds":35},{"year":2018,"month":9,"date":4,"hours":16,"minutes":31,"seconds":45}]},"axis":null},
"y":{"field":"at","type":"quantitative","scale":{"domain":[12156.5,12377.8],"nice":false,"zero":false},"axis":null}}},
{"data":{"name":"axunder"},"mark":{"type":"text","align":"left","baseline":"middle","fontSize":10.5,"clip":true},
"encoding":{"x":{"datum":{"year":2018,"month":9,"date":4,"hours":16,"minutes":3,"seconds":15},"type":"temporal","scale":{"domain":[{"year":2018,"month":9,"date":4,"hours":8,"minutes":5,"seconds":35},{"year":2018,"month":9,"date":4,"hours":16,"minutes":31,"seconds":45}]},"axis":null},
"y":{"field":"at","type":"quantitative","scale":{"domain":[12156.5,12377.8],"nice":false,"zero":false},"axis":null},
"color":{"field":"c","type":"nominal","scale":{"domain":["r","k","g","G","L","m","o"],"range":["#ff0000","#000000","#1f8f1f","#0b7a0b","#33b533","#a31515","#f07a7a"]},"legend":null},
"text":{"field":"txt"}}},
{"data":{"name":"axover"},"mark":{"type":"point","shape":"M-1,-0.289H1V0.289H-1Z","size":2025,"filled":true,"opacity":1,"fill":{"gradient":"linear","x1":0,"y1":0,"x2":0,"y2":1,"stops":[{"offset":0,"color":"#ffffff"},{"offset":1,"color":"#d8e2ea"}]},"stroke":"#7f8f9b","strokeWidth":1},
"encoding":{"x":{"datum":{"year":2018,"month":9,"date":4,"hours":16,"minutes":15,"seconds":36},"type":"temporal","scale":{"domain":[{"year":2018,"month":9,"date":4,"hours":8,"minutes":5,"seconds":35},{"year":2018,"month":9,"date":4,"hours":16,"minutes":31,"seconds":45}]},"axis":null},
"y":{"field":"at","type":"quantitative","scale":{"domain":[12156.5,12377.8],"nice":false,"zero":false},"axis":null}}},
{"data":{"name":"axover"},"mark":{"type":"text","align":"left","baseline":"middle","fontSize":10.5},
"encoding":{"x":{"datum":{"year":2018,"month":9,"date":4,"hours":16,"minutes":3,"seconds":15},"type":"temporal","scale":{"domain":[{"year":2018,"month":9,"date":4,"hours":8,"minutes":5,"seconds":35},{"year":2018,"month":9,"date":4,"hours":16,"minutes":31,"seconds":45}]},"axis":null},
"y":{"field":"at","type":"quantitative","scale":{"domain":[12156.5,12377.8],"nice":false,"zero":false},"axis":null},
"color":{"field":"c","type":"nominal","scale":{"domain":["r","k","g","G","L","m","o"],"range":["#ff0000","#000000","#1f8f1f","#0b7a0b","#33b533","#a31515","#f07a7a"]},"legend":null},
"text":{"field":"txt"}}},
{"data":{"values":[{"txt":"12 186,6","at":12182.4}]},"mark":{"type":"point","shape":"M-1,-0.289H1V0.289H-1Z","size":2025,"filled":true,"opacity":1,"fill":{"gradient":"linear","x1":0,"y1":0,"x2":0,"y2":1,"stops":[{"offset":0,"color":"#ffe15a"},{"offset":1,"color":"#f4b400"}]},"stroke":"#b98a00","strokeWidth":1},
"encoding":{"x":{"datum":{"year":2018,"month":9,"date":4,"hours":16,"minutes":15,"seconds":36},"type":"temporal","scale":{"domain":[{"year":2018,"month":9,"date":4,"hours":8,"minutes":5,"seconds":35},{"year":2018,"month":9,"date":4,"hours":16,"minutes":31,"seconds":45}]},"axis":null},
"y":{"field":"at","type":"quantitative","scale":{"domain":[12156.5,12377.8],"nice":false,"zero":false},"axis":null}}},
{"data":{"values":[{"txt":"12 186,6","at":12182.4,"c":"k"},{"txt":"12 220","at":12220,"c":"k"},{"txt":"12 205,4","at":12205.6,"c":"m"}]},"mark":{"type":"text","align":"left","baseline":"middle","fontSize":10.5},
"encoding":{"x":{"datum":{"year":2018,"month":9,"date":4,"hours":16,"minutes":3,"seconds":15},"type":"temporal","scale":{"domain":[{"year":2018,"month":9,"date":4,"hours":8,"minutes":5,"seconds":35},{"year":2018,"month":9,"date":4,"hours":16,"minutes":31,"seconds":45}]},"axis":null},
"y":{"field":"at","type":"quantitative","scale":{"domain":[12156.5,12377.8],"nice":false,"zero":false},"axis":null},
"color":{"field":"c","type":"nominal","scale":{"domain":["r","k","g","G","L","m","o"],"range":["#ff0000","#000000","#1f8f1f","#0b7a0b","#33b533","#a31515","#f07a7a"]},"legend":null},
"text":{"field":"txt"}}},
{"data":{"values":[{"t":"2018-09-04T08:24"}]},"mark":{"type":"point","shape":"M-1,-0.241H1V0.241H-1Z","size":3364,"filled":true,"opacity":1,"fill":{"gradient":"linear","x1":0,"y1":0,"x2":0,"y2":1,"stops":[{"offset":0,"color":"#cfdce3"},{"offset":1,"color":"#a7b9c4"}]},"stroke":"#eef3f6","strokeWidth":1},
"encoding":{"x":{"field":"t","type":"temporal","scale":{"domain":[{"year":2018,"month":9,"date":4,"hours":8,"minutes":5,"seconds":35},{"year":2018,"month":9,"date":4,"hours":16,"minutes":31,"seconds":45}]},"axis":null},
"y":{"datum":12373.0,"type":"quantitative","scale":{"domain":[12156.5,12377.8],"nice":false,"zero":false},"axis":null}}},
{"data":{"values":[{"t":"2018-09-04T09:23"}]},"mark":{"type":"point","shape":"M-1,-0.113H1V0.113H-1Z","size":15376,"filled":true,"opacity":1,"fill":{"gradient":"linear","x1":0,"y1":0,"x2":0,"y2":1,"stops":[{"offset":0,"color":"#cfdce3"},{"offset":1,"color":"#a7b9c4"}]},"stroke":"#eef3f6","strokeWidth":1},
"encoding":{"x":{"field":"t","type":"temporal","scale":{"domain":[{"year":2018,"month":9,"date":4,"hours":8,"minutes":5,"seconds":35},{"year":2018,"month":9,"date":4,"hours":16,"minutes":31,"seconds":45}]},"axis":null},
"y":{"datum":12373.0,"type":"quantitative","scale":{"domain":[12156.5,12377.8],"nice":false,"zero":false},"axis":null}}},
{"data":{"values":[{"t":"2018-09-04T10:47"}]},"mark":{"type":"point","shape":"M-1,-0.1007H1V0.1007H-1Z","size":19321,"filled":true,"opacity":1,"fill":{"gradient":"linear","x1":0,"y1":0,"x2":0,"y2":1,"stops":[{"offset":0,"color":"#cfdce3"},{"offset":1,"color":"#a7b9c4"}]},"stroke":"#eef3f6","strokeWidth":1},
"encoding":{"x":{"field":"t","type":"temporal","scale":{"domain":[{"year":2018,"month":9,"date":4,"hours":8,"minutes":5,"seconds":35},{"year":2018,"month":9,"date":4,"hours":16,"minutes":31,"seconds":45}]},"axis":null},
"y":{"datum":12373.0,"type":"quantitative","scale":{"domain":[12156.5,12377.8],"nice":false,"zero":false},"axis":null}}},
{"data":{"name":"legend"},"mark":{"type":"text","align":"left","baseline":"middle","fontSize":10.5},
"encoding":{"x":{"field":"t","type":"temporal","scale":{"domain":[{"year":2018,"month":9,"date":4,"hours":8,"minutes":5,"seconds":35},{"year":2018,"month":9,"date":4,"hours":16,"minutes":31,"seconds":45}]},"axis":null},
"y":{"datum":12373.0,"type":"quantitative","scale":{"domain":[12156.5,12377.8],"nice":false,"zero":false},"axis":null},
"color":{"field":"c","type":"nominal","scale":{"domain":["r","k","g","G","L","m","o"],"range":["#ff0000","#000000","#1f8f1f","#0b7a0b","#33b533","#a31515","#f07a7a"]},"legend":null},
"text":{"field":"txt"}}},
{"data":{"values":[{"t":"2018-09-04T08:07","txt":"© IT-Finance.com"}]},"mark":{"type":"text","align":"left","baseline":"middle","fontSize":11,"color":"#000"},
"encoding":{"x":{"field":"t","type":"temporal","scale":{"domain":[{"year":2018,"month":9,"date":4,"hours":8,"minutes":5,"seconds":35},{"year":2018,"month":9,"date":4,"hours":16,"minutes":31,"seconds":45}]},"axis":null},
"y":{"datum":12162.6,"type":"quantitative","scale":{"domain":[12156.5,12377.8],"nice":false,"zero":false},"axis":null},"text":{"field":"txt"}}}
]
},
{
"width":800,"height":35,
"layer":[
{"data":{"values":[{}]},"mark":{"type":"rect","fill":"#dae4f7"},
"encoding":{"x":{"datum":{"year":2018,"month":9,"date":4,"hours":8,"minutes":5,"seconds":35},"type":"temporal","scale":{"domain":[{"year":2018,"month":9,"date":4,"hours":8,"minutes":5,"seconds":35},{"year":2018,"month":9,"date":4,"hours":16,"minutes":31,"seconds":45}]},"axis":null},
"x2":{"datum":{"year":2018,"month":9,"date":4,"hours":15,"minutes":58,"seconds":30}},
"y":{"datum":-2,"type":"quantitative","scale":{"domain":[-2,106],"nice":false,"zero":false},"axis":null},"y2":{"datum":106}}},
{"data":{"values":[{}]},"mark":{"type":"rect","fill":"#ffffff"},
"encoding":{"x":{"datum":{"year":2018,"month":9,"date":4,"hours":15,"minutes":58,"seconds":30},"type":"temporal","scale":{"domain":[{"year":2018,"month":9,"date":4,"hours":8,"minutes":5,"seconds":35},{"year":2018,"month":9,"date":4,"hours":16,"minutes":31,"seconds":45}]},"axis":null},
"x2":{"datum":{"year":2018,"month":9,"date":4,"hours":16,"minutes":31,"seconds":45}},
"y":{"datum":-2,"type":"quantitative","scale":{"domain":[-2,106],"nice":false,"zero":false},"axis":null},"y2":{"datum":106}}},
{"data":{"values":[{"v":105.5,"w":2},{"v":-1.8,"w":1}]},"mark":{"type":"rule","stroke":"#8d9ba6"},
"encoding":{"x":{"datum":{"year":2018,"month":9,"date":4,"hours":8,"minutes":5,"seconds":35},"type":"temporal","scale":{"domain":[{"year":2018,"month":9,"date":4,"hours":8,"minutes":5,"seconds":35},{"year":2018,"month":9,"date":4,"hours":16,"minutes":31,"seconds":45}]},"axis":null},
"x2":{"datum":{"year":2018,"month":9,"date":4,"hours":15,"minutes":58,"seconds":30}},
"y":{"field":"v","type":"quantitative","scale":{"domain":[-2,106],"nice":false,"zero":false},"axis":null},
"strokeWidth":{"field":"w","type":"quantitative","scale":null,"legend":null}}},
{"data":{"values":[{"v":70},{"v":30}]},"mark":{"type":"rule","stroke":"#2f2fd6","strokeWidth":1},
"encoding":{"x":{"datum":{"year":2018,"month":9,"date":4,"hours":8,"minutes":5,"seconds":35},"type":"temporal","scale":{"domain":[{"year":2018,"month":9,"date":4,"hours":8,"minutes":5,"seconds":35},{"year":2018,"month":9,"date":4,"hours":16,"minutes":31,"seconds":45}]},"axis":null},
"x2":{"datum":{"year":2018,"month":9,"date":4,"hours":15,"minutes":58,"seconds":30}},
"y":{"field":"v","type":"quantitative","scale":{"domain":[-2,106],"nice":false,"zero":false},"axis":null}}},
{"data":{"name":"rsi"},"mark":{"type":"line","stroke":"#111","strokeWidth":1},
"encoding":{"x":{"field":"t","type":"temporal","scale":{"domain":[{"year":2018,"month":9,"date":4,"hours":8,"minutes":5,"seconds":35},{"year":2018,"month":9,"date":4,"hours":16,"minutes":31,"seconds":45}]},"axis":null},
"y":{"field":"v","type":"quantitative","scale":{"domain":[-2,106],"nice":false,"zero":false},"axis":null}}},
{"data":{"values":[{}]},"mark":{"type":"rule","stroke":"#7a8a96","strokeWidth":1},
"encoding":{"x":{"datum":{"year":2018,"month":9,"date":4,"hours":15,"minutes":58,"seconds":30},"type":"temporal","scale":{"domain":[{"year":2018,"month":9,"date":4,"hours":8,"minutes":5,"seconds":35},{"year":2018,"month":9,"date":4,"hours":16,"minutes":31,"seconds":45}]},"axis":null},
"y":{"datum":-2,"type":"quantitative","scale":{"domain":[-2,106],"nice":false,"zero":false},"axis":null},"y2":{"datum":106}}},
{"data":{"values":[{"v":100},{"v":43.388}]},"mark":{"type":"rule","stroke":"#333","strokeWidth":1},
"encoding":{"x":{"datum":{"year":2018,"month":9,"date":4,"hours":15,"minutes":58,"seconds":30},"type":"temporal","scale":{"domain":[{"year":2018,"month":9,"date":4,"hours":8,"minutes":5,"seconds":35},{"year":2018,"month":9,"date":4,"hours":16,"minutes":31,"seconds":45}]},"axis":null},
"x2":{"datum":{"year":2018,"month":9,"date":4,"hours":16,"minutes":1,"seconds":40}},
"y":{"field":"v","type":"quantitative","scale":{"domain":[-2,106],"nice":false,"zero":false},"axis":null}}},
{"data":{"values":[{"t":"2018-09-04T08:21"}]},"mark":{"type":"point","shape":"M-1,-0.2917H1V0.2917H-1Z","size":2304,"filled":true,"opacity":1,"fill":{"gradient":"linear","x1":0,"y1":0,"x2":0,"y2":1,"stops":[{"offset":0,"color":"#cfdce3"},{"offset":1,"color":"#a7b9c4"}]},"stroke":"#eef3f6","strokeWidth":1},
"encoding":{"x":{"field":"t","type":"temporal","scale":{"domain":[{"year":2018,"month":9,"date":4,"hours":8,"minutes":5,"seconds":35},{"year":2018,"month":9,"date":4,"hours":16,"minutes":31,"seconds":45}]},"axis":null},
"y":{"datum":83.5,"type":"quantitative","scale":{"domain":[-2,106],"nice":false,"zero":false},"axis":null}}},
{"data":{"values":[{"t":"2018-09-04T08:07","txt":"RSI ( 14)"}]},"mark":{"type":"text","align":"left","baseline":"middle","fontSize":11,"color":"#000"},
"encoding":{"x":{"field":"t","type":"temporal","scale":{"domain":[{"year":2018,"month":9,"date":4,"hours":8,"minutes":5,"seconds":35},{"year":2018,"month":9,"date":4,"hours":16,"minutes":31,"seconds":45}]},"axis":null},
"y":{"datum":83.5,"type":"quantitative","scale":{"domain":[-2,106],"nice":false,"zero":false},"axis":null},"text":{"field":"txt"}}},
{"data":{"values":[{"t":"2018-09-04T16:02","txt":"100"}]},"mark":{"type":"text","align":"left","baseline":"middle","fontSize":12,"fontWeight":"bold","color":"#000"},
"encoding":{"x":{"field":"t","type":"temporal","scale":{"domain":[{"year":2018,"month":9,"date":4,"hours":8,"minutes":5,"seconds":35},{"year":2018,"month":9,"date":4,"hours":16,"minutes":31,"seconds":45}]},"axis":null},
"y":{"datum":86.5,"type":"quantitative","scale":{"domain":[-2,106],"nice":false,"zero":false},"axis":null},"text":{"field":"txt"}}},
{"data":{"values":[{"t":"2018-09-04T16:13"}]},"mark":{"type":"point","shape":"M-1,-0.361H1V0.361H-1Z","size":1296,"filled":true,"opacity":1,"fill":{"gradient":"linear","x1":0,"y1":0,"x2":0,"y2":1,"stops":[{"offset":0,"color":"#ffffff"},{"offset":1,"color":"#d8e2ea"}]},"stroke":"#7f8f9b","strokeWidth":1},
"encoding":{"x":{"field":"t","type":"temporal","scale":{"domain":[{"year":2018,"month":9,"date":4,"hours":8,"minutes":5,"seconds":35},{"year":2018,"month":9,"date":4,"hours":16,"minutes":31,"seconds":45}]},"axis":null},
"y":{"datum":43,"type":"quantitative","scale":{"domain":[-2,106],"nice":false,"zero":false},"axis":null}}},
{"data":{"values":[{"t":"2018-09-04T16:03","txt":"43,388"}]},"mark":{"type":"text","align":"left","baseline":"middle","fontSize":10.5,"color":"#000"},
"encoding":{"x":{"field":"t","type":"temporal","scale":{"domain":[{"year":2018,"month":9,"date":4,"hours":8,"minutes":5,"seconds":35},{"year":2018,"month":9,"date":4,"hours":16,"minutes":31,"seconds":45}]},"axis":null},
"y":{"datum":43,"type":"quantitative","scale":{"domain":[-2,106],"nice":false,"zero":false},"axis":null},"text":{"field":"txt"}}}
]
},
{
"width":800,"height":1,
"data":{"values":[{}]},
"mark":{"type":"rule","opacity":0},
"encoding":{"x":{"datum":{"year":2018,"month":9,"date":4,"hours":8,"minutes":5,"seconds":35},"type":"temporal","scale":{"domain":[{"year":2018,"month":9,"date":4,"hours":8,"minutes":5,"seconds":35},{"year":2018,"month":9,"date":4,"hours":16,"minutes":31,"seconds":45}]},
"axis":{"values":[{"year":2018,"month":9,"date":4,"hours":9},{"year":2018,"month":9,"date":4,"hours":10},{"year":2018,"month":9,"date":4,"hours":11},{"year":2018,"month":9,"date":4,"hours":12},{"year":2018,"month":9,"date":4,"hours":13},{"year":2018,"month":9,"date":4,"hours":14},{"year":2018,"month":9,"date":4,"hours":15}],
"format":"%H:%M","title":null,"domain":false,"grid":false,"tickSize":4,"tickColor":"#555","labelFont":"Liberation Sans","labelFontSize":11,"labelColor":"#111","labelPadding":3,"labelFlush":false}}}
}
]
}
